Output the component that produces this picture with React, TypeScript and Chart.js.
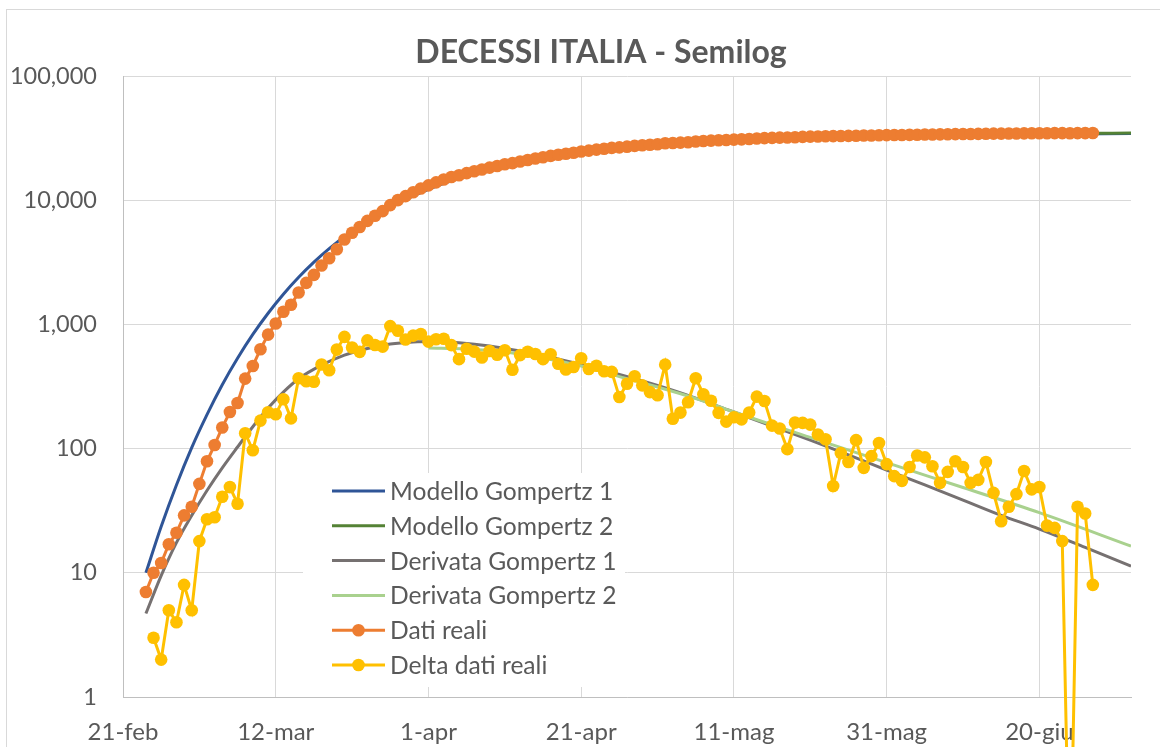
import React, { useEffect, useRef } from "react";
import { Chart, registerables } from "chart.js";

Chart.register(...registerables);

// ---------- DATA ----------
const chartTitle = "DECESSI ITALIA - Semilog";

// x axis: days counted from 21-feb (2020)
const xTickDays = [0, 20, 40, 60, 80, 100, 120];
const xTickLabels = ["21-feb", "12-mar", "1-apr", "21-apr", "11-mag", "31-mag", "20-giu"];
const xMaxDay = 132;
const yTickValues = [1, 10, 100, 1000, 10000, 100000];

// Dati reali: cumulative deaths, daily from 24-feb (day 3) to 27-jun
const realFirstDay = 3;
const realDeaths = [
  7, 10, 12, 17, 21, 29,
  34, 52, 79, 107, 148, 197, 233, 366, 463, 631, 827, 1016, 1266, 1441, 1809, 2158,
  2503, 2978, 3405, 4032, 4825, 5476, 6077, 6820, 7503, 8165, 9134, 10023, 10779, 11591, 12428,
  13155, 13915, 14681, 15362, 15887, 16523, 17127, 17669, 18279, 18849, 19468, 19899, 20465,
  21067, 21645, 22170, 22745, 23227, 23660, 24114, 24648, 25085, 25549, 25969, 26384, 26644,
  26977, 27359, 27682, 27967,
  28236, 28710, 28884, 29079, 29315, 29684, 29958, 30201, 30395, 30560, 30739, 30911, 31106,
  31368, 31610, 31763, 31908, 32007, 32169, 32330, 32486, 32616, 32735, 32785, 32877, 32955,
  33072, 33142, 33229, 33340, 33415,
  33475, 33530, 33601, 33689, 33774, 33846, 33899, 33964, 34043, 34114, 34167, 34223, 34301,
  34345, 34371, 34405, 34448, 34514, 34561, 34610, 34634, 34657, 34675, 34644, 34678, 34708, 34716,
];

// Delta dati reali: daily deaths, from 25-feb (day 4) to 27-jun
const deltaFirstDay = 4;
const deltaDeaths = [
  3, 2, 5, 4, 8,
  5, 18, 27, 28, 41, 49, 36, 133, 97, 168, 196, 189, 250, 175, 368, 349, 345, 475, 427, 627,
  793, 651, 601, 743, 683, 662, 969, 889, 756, 812, 837,
  727, 760, 766, 681, 525, 636, 604, 542, 610, 570, 619, 431, 566, 602, 578, 525, 575, 482,
  433, 454, 534, 437, 464, 420, 415, 260, 333, 382, 323, 285,
  269, 474, 174, 195, 236, 369, 274, 243, 194, 165, 179, 172, 195, 262, 242, 153, 145, 99,
  162, 161, 156, 130, 119, 50, 92, 78, 117, 70, 87, 111, 75,
  60, 55, 71, 88, 85, 72, 53, 65, 79, 71, 53, 56, 78, 44, 26, 34, 43, 66, 47, 49, 24, 23, 18,
  -31, 34, 30, 8,
];
// a non-positive value cannot sit on a log axis: it is sent far below the axis
const logFloor = 0.02;

// Modello Gompertz 1
const gompertz1Days = [3, 5, 7, 9, 11, 13, 15, 17, 19, 21, 23, 25, 27, 30, 35, 40, 45, 50, 60, 70, 80, 90, 100, 110, 120, 132];
const gompertz1Values = [10, 23.6, 51, 102, 188, 327, 534, 830, 1229, 1749, 2394, 3171, 4077, 5661, 8769, 12220, 15680, 18940, 24350, 28090, 30490, 31950, 32800, 33310, 34000, 34400];

// Modello Gompertz 2
const gompertz2Days = [40, 45, 50, 55, 60, 65, 70, 75, 80, 90, 100, 110, 120, 127, 132];
const gompertz2Values = [13000, 16300, 19400, 22100, 24400, 26300, 27900, 29150, 30200, 31800, 32900, 33700, 34250, 34580, 34700];

// Derivata Gompertz 1
const derivata1Days = [3, 5, 7, 9, 11, 13, 15, 17, 19, 21, 23, 26, 29, 32, 35, 38, 41, 44, 48, 52, 56, 60, 65, 70, 75, 80, 85, 90, 95, 100, 105, 110, 115, 120, 126, 132];
const derivata1Values = [4.7, 9.5, 17.5, 29, 46, 70, 103, 150, 212, 285, 365, 470, 565, 640, 695, 722, 728, 712, 670, 610, 545, 475, 395, 322, 255, 197, 152, 117, 89, 67, 51, 38.5, 29, 22.5, 16, 11.3];

// Derivata Gompertz 2
const derivata2Days = [40, 45, 50, 55, 60, 65, 70, 75, 80, 90, 100, 110, 120, 132];
const derivata2Values = [646, 634, 600, 536, 462, 380, 313, 253, 197, 123, 77, 48.6, 30.5, 16.4];

const seriesNames = [
  "Modello Gompertz 1",
  "Modello Gompertz 2",
  "Derivata Gompertz 1",
  "Derivata Gompertz 2",
  "Dati reali",
  "Delta dati reali",
];

// ---------- STYLE ----------
const FONT = "Lato, 'Open Sans', sans-serif";
const TEXT = "#595959";
const GRID = "#d9d9d9";
const AXIS = "#bfbfbf";
const COLORS = ["#2f5597", "#548235", "#767171", "#a9d18e", "#ed7d31", "#ffc000"];
const MARKERS = [false, false, false, false, true, true];

const pairs = (xs: number[], ys: number[]) => xs.map((x, i) => ({ x, y: ys[i] }));

const decorPlugin = {
  id: "decor",
  beforeDraw(chart: any) {
    const ctx = chart.ctx as CanvasRenderingContext2D;
    ctx.save();
    ctx.fillStyle = "#ffffff";
    ctx.fillRect(0, 0, chart.width, chart.height);
    ctx.strokeStyle = GRID;
    ctx.lineWidth = 1;
    ctx.strokeRect(6.5, 9.5, chart.width, chart.height);
    ctx.fillStyle = TEXT;
    ctx.font = `bold 32px ${FONT}`;
    ctx.textAlign = "center";
    ctx.textBaseline = "alphabetic";
    ctx.fillText(chartTitle, 601, 63);
    ctx.restore();
  },
  afterDraw(chart: any) {
    const ctx = chart.ctx as CanvasRenderingContext2D;
    ctx.save();
    ctx.fillStyle = "#ffffff";
    ctx.fillRect(303, 473, 322, 214);
    const rowTop = 491;
    const rowStep = 34.8;
    ctx.font = `24.6px ${FONT}`;
    ctx.textAlign = "left";
    ctx.textBaseline = "middle";
    seriesNames.forEach((name, i) => {
      const y = rowTop + i * rowStep;
      ctx.strokeStyle = COLORS[i];
      ctx.lineWidth = 3;
      ctx.beginPath();
      ctx.moveTo(332, y);
      ctx.lineTo(385, y);
      ctx.stroke();
      if (MARKERS[i]) {
        ctx.fillStyle = COLORS[i];
        ctx.beginPath();
        ctx.arc(358.5, y, 6.3, 0, Math.PI * 2);
        ctx.fill();
      }
      ctx.fillStyle = TEXT;
      ctx.fillText(name, 390, y + 1);
    });
    ctx.restore();
  },
};

export default function App() {
  const canvasRef = useRef<HTMLCanvasElement>(null);

  useEffect(() => {
    const realPts = realDeaths.map((v, i) => ({ x: realFirstDay + i, y: v }));
    const deltaPts = deltaDeaths.map((v, i) => ({ x: deltaFirstDay + i, y: v > 0 ? v : logFloor }));

    const lineDs = (idx: number, data: any[], order: number) => ({
      label: seriesNames[idx],
      data,
      borderColor: COLORS[idx],
      backgroundColor: COLORS[idx],
      borderWidth: 3,
      pointRadius: 0,
      cubicInterpolationMode: "monotone" as const,
      fill: false,
      order,
    });

    const chart = new Chart(canvasRef.current!, {
      type: "line",
      data: {
        datasets: [
          lineDs(0, pairs(gompertz1Days, gompertz1Values), 6),
          lineDs(1, pairs(gompertz2Days, gompertz2Values), 5),
          lineDs(2, pairs(derivata1Days, derivata1Values), 4),
          lineDs(3, pairs(derivata2Days, derivata2Values), 3),
          {
            label: seriesNames[4],
            data: realPts,
            borderColor: COLORS[4],
            backgroundColor: COLORS[4],
            borderWidth: 3,
            pointRadius: 6.3,
            pointBorderWidth: 0,
            pointBackgroundColor: COLORS[4],
            tension: 0,
            order: 2,
          },
          {
            label: seriesNames[5],
            data: deltaPts,
            borderColor: COLORS[5],
            backgroundColor: COLORS[5],
            borderWidth: 3,
            pointRadius: 6.3,
            pointBorderWidth: 0,
            pointBackgroundColor: COLORS[5],
            tension: 0,
            clip: false as any,
            order: 1,
          },
        ],
      },
      options: {
        responsive: false,
        animation: false,
        devicePixelRatio: 1,
        layout: { padding: { top: 76, right: 29, left: 0, bottom: 0 } },
        plugins: {
          legend: { display: false },
          title: { display: false },
          tooltip: { enabled: false },
        },
        scales: {
          x: {
            type: "linear",
            min: 0,
            max: xMaxDay,
            afterBuildTicks: (scale: any) => {
              scale.ticks = xTickDays.map((value) => ({ value }));
            },
            afterFit: (scale: any) => {
              scale.height = 50;
            },
            ticks: {
              callback: (_v: any, i: number) => xTickLabels[i],
              autoSkip: false,
              maxRotation: 0,
              includeBounds: false,
              padding: 21,
              color: TEXT,
              font: { family: FONT, size: 24 },
            },
            grid: { color: GRID, lineWidth: 1, drawTicks: false },
            border: { color: AXIS, width: 1 },
          },
          y: {
            type: "logarithmic",
            min: 1,
            max: 100000,
            afterBuildTicks: (scale: any) => {
              scale.ticks = yTickValues.map((value) => ({ value }));
            },
            afterFit: (scale: any) => {
              scale.width = 123;
            },
            ticks: {
              callback: (v: any) => Number(v).toLocaleString("en-US"),
              padding: 26,
              color: TEXT,
              font: { family: FONT, size: 23.5 },
            },
            grid: { color: GRID, lineWidth: 1, drawTicks: false },
            border: { color: AXIS, width: 1 },
          },
        },
      },
      plugins: [decorPlugin],
    } as any);

    return () => chart.destroy();
  }, []);

  return (
    <div style={{ position: "fixed", left: 0, top: 0, width: 1160, height: 747, background: "#fff" }}>
      <canvas ref={canvasRef} width={1160} height={747} style={{ display: "block" }} />
    </div>
  );
}
